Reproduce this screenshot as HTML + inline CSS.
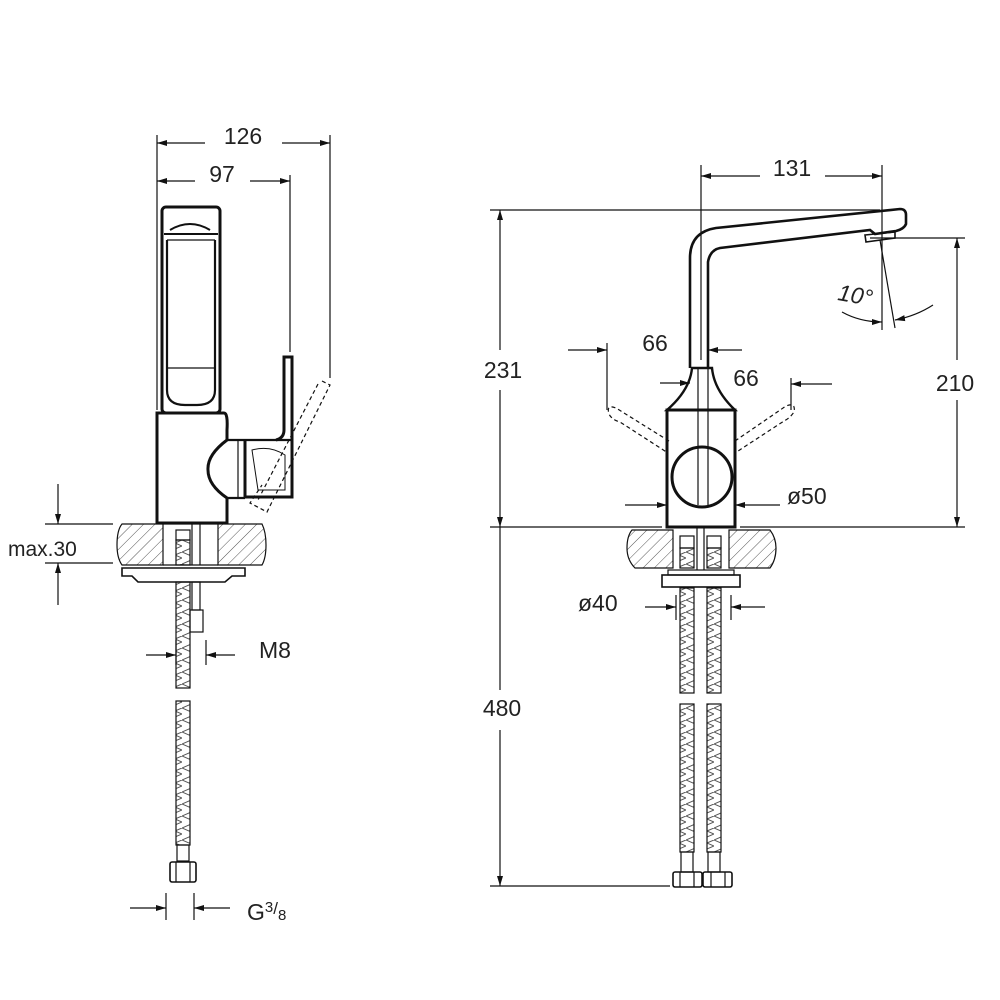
<!DOCTYPE html>
<html><head><meta charset="utf-8"><style>
html,body{margin:0;padding:0;background:#fff}
svg{display:block}
text{font-family:"Liberation Sans",sans-serif;fill:#222}
</style></head><body>
<svg width="1000" height="1000" viewBox="0 0 1000 1000" xmlns="http://www.w3.org/2000/svg">
<defs>
<pattern id="hatch" width="8" height="8" patternUnits="userSpaceOnUse" patternTransform="rotate(45)">
<line x1="0" y1="0" x2="0" y2="8" stroke="#555" stroke-width="1"/>
</pattern>
<pattern id="hose" width="14" height="12" patternUnits="userSpaceOnUse">
<path d="M0 0 L14 6 L0 12 M14 0 L7 3" fill="none" stroke="#555" stroke-width="1"/>
</pattern>
<marker id="ar" markerWidth="10" markerHeight="8" refX="10" refY="4" orient="auto" markerUnits="userSpaceOnUse">
<path d="M0 1 L10 4 L0 7 Z" fill="#111"/>
</marker>
</defs>
<g stroke="#111" fill="none" stroke-width="1.2">
<!-- LEFT VIEW dimension lines -->
<line x1="157" y1="135" x2="157" y2="410"/>
<line x1="330" y1="135" x2="330" y2="378"/>
<line x1="290" y1="175" x2="290" y2="352"/>
<line x1="205" y1="143" x2="157" y2="143" marker-end="url(#ar)"/>
<line x1="282" y1="143" x2="330" y2="143" marker-end="url(#ar)"/>
<line x1="195" y1="181" x2="157" y2="181" marker-end="url(#ar)"/>
<line x1="250" y1="181" x2="290" y2="181" marker-end="url(#ar)"/>
<!-- spout body -->
<rect x="162" y="207" width="58" height="206" rx="4" stroke-width="3"/>
<line x1="164" y1="234" x2="218" y2="234" stroke-width="2"/>
<line x1="167" y1="240" x2="215" y2="240"/>
<path d="M170 230 Q190 218 210 230" stroke-width="2"/>
<path d="M167 240 V390 Q167 405 185 405 H197 Q215 405 215 390 V240" stroke-width="2.2"/>
<line x1="167" y1="368" x2="215" y2="368"/>
<!-- body -->
<path d="M157 413 H224 Q228 413 227 430 V440 Q207 455 208 470 Q208 485 227 498 V523 H157 Z" stroke-width="3"/>
<path d="M227 440 H292 M227 498 H245" stroke-width="2.2"/>
<path d="M245 440 V497 H292 V357 H284 V430 Q284 438 276 440" stroke-width="3"/>
<path d="M252 450 Q270 445 285 455 V490 H258 Z" stroke-width="1"/>
<line x1="238" y1="440" x2="238" y2="497"/>
<path d="M322 381 L330 385 L267 512 L250 503 L262 485" stroke-dasharray="4,3"/>
<path d="M318 384 L258 500" stroke-dasharray="4,3"/>
<!-- countertop left -->
<path d="M122 524 H163 V565 H122 Q117 558 117 545 Q117 530 122 524 Z" fill="url(#hatch)"/>
<path d="M218 524 H262 Q266 532 266 545 Q266 558 262 565 H218 Z" fill="url(#hatch)"/>
<line x1="163" y1="524" x2="218" y2="524"/>
<rect x="176" y="530" width="14" height="10"/>
<rect x="176" y="540" width="14" height="25" fill="url(#hose)"/>
<line x1="192" y1="524" x2="192" y2="565"/><line x1="200" y1="524" x2="200" y2="565"/>
<!-- plate -->
<path d="M122 568 H245 V576 H232 L225 582 H138 L132 576 H122 Z" stroke-width="1.6"/>
<line x1="163" y1="565" x2="218" y2="565"/>
<!-- hose left -->
<rect x="176" y="582" width="14" height="106" fill="url(#hose)"/>
<rect x="176" y="701" width="14" height="144" fill="url(#hose)"/>
<rect x="177" y="845" width="12" height="16"/>
<rect x="170" y="862" width="26" height="20" rx="2" stroke-width="1.6"/>
<line x1="176" y1="862" x2="176" y2="882"/><line x1="190" y1="862" x2="190" y2="882"/>
<rect x="192" y="582" width="8" height="28"/>
<rect x="190" y="610" width="13" height="22"/>
<!-- max.30 -->
<line x1="45" y1="524" x2="113" y2="524"/>
<line x1="45" y1="563" x2="113" y2="563"/>
<line x1="58" y1="484" x2="58" y2="524" marker-end="url(#ar)"/>
<line x1="58" y1="605" x2="58" y2="563" marker-end="url(#ar)"/>
<!-- M8 -->
<line x1="176" y1="640" x2="176" y2="665"/>
<line x1="206" y1="640" x2="206" y2="665"/>
<line x1="146" y1="655" x2="176" y2="655" marker-end="url(#ar)"/>
<line x1="235" y1="655" x2="206" y2="655" marker-end="url(#ar)"/>
<!-- G3/8 -->
<line x1="166" y1="893" x2="166" y2="920"/>
<line x1="194" y1="893" x2="194" y2="920"/>
<line x1="130" y1="908" x2="166" y2="908" marker-end="url(#ar)"/>
<line x1="230" y1="908" x2="194" y2="908" marker-end="url(#ar)"/>

<!-- RIGHT VIEW -->
<line x1="490" y1="210" x2="880" y2="210"/>
<line x1="490" y1="527" x2="662" y2="527"/>
<line x1="740" y1="527" x2="965" y2="527"/>
<line x1="490" y1="886" x2="670" y2="886"/>
<line x1="500" y1="350" x2="500" y2="210" marker-end="url(#ar)"/>
<line x1="500" y1="390" x2="500" y2="527" marker-end="url(#ar)"/>
<line x1="500" y1="690" x2="500" y2="527"/>
<line x1="500" y1="730" x2="500" y2="886" marker-end="url(#ar)"/>
<!-- 131 -->
<line x1="701" y1="165" x2="701" y2="360"/>
<line x1="882" y1="165" x2="882" y2="330"/>
<line x1="760" y1="176" x2="701" y2="176" marker-end="url(#ar)"/>
<line x1="825" y1="176" x2="882" y2="176" marker-end="url(#ar)"/>
<!-- 210 -->
<line x1="870" y1="238" x2="965" y2="238"/>
<line x1="957" y1="360" x2="957" y2="238" marker-end="url(#ar)"/>
<line x1="957" y1="400" x2="957" y2="527" marker-end="url(#ar)"/>
<!-- 10 deg -->
<line x1="880" y1="240" x2="895" y2="328"/>
<path d="M842 312 Q860 322 882 322" marker-end="url(#ar)"/>
<path d="M933 305 Q916 316 895 320" marker-end="url(#ar)"/>
<!-- spout -->
<path d="M690 368 V258 Q690 232 716 228 L900 209 Q906 209 906 215 V224 Q904 229 896 231 L875 234 L870 230 L720 248 Q710 250 708 262 V368" stroke-width="2.6"/>
<path d="M865 235 L895 232 L895 238 L866 242 Z" stroke-width="1.6"/>
<line x1="698" y1="368" x2="698" y2="505"/>
<line x1="708" y1="368" x2="708" y2="505"/>
<!-- body -->
<path d="M692 368 H712 Q714 390 735 410 H667 Q690 390 692 368 Z" stroke-width="2.4"/>
<rect x="667" y="410" width="68" height="117" stroke-width="3"/>
<circle cx="702" cy="477" r="30" stroke-width="3"/>
<!-- dashed levers -->
<path d="M669 441 L616 408 Q606 404 609 414 Q612 420 620 422 L668 453" stroke-dasharray="4,3"/>
<path d="M735 441 L786 406 Q796 402 794 412 Q790 418 784 421 L735 453" stroke-dasharray="4,3"/>
<!-- 66 dims -->
<line x1="607" y1="343" x2="607" y2="410"/>
<line x1="568" y1="350" x2="607" y2="350" marker-end="url(#ar)"/>
<line x1="742" y1="350" x2="708" y2="350" marker-end="url(#ar)"/>
<line x1="660" y1="383" x2="690" y2="383" marker-end="url(#ar)"/>
<line x1="791" y1="378" x2="791" y2="410"/>
<line x1="832" y1="384" x2="791" y2="384" marker-end="url(#ar)"/>
<!-- ø50 -->
<line x1="625" y1="505" x2="667" y2="505" marker-end="url(#ar)"/>
<line x1="780" y1="505" x2="735" y2="505" marker-end="url(#ar)"/>
<!-- countertop right -->
<path d="M632 530 H673 V568 H635 Q627 560 627 548 Q627 536 632 530 Z" fill="url(#hatch)"/>
<path d="M729 530 H770 Q776 538 776 548 Q776 560 770 568 H729 Z" fill="url(#hatch)"/>
<rect x="680" y="536" width="14" height="12"/><rect x="707" y="536" width="14" height="12"/>
<rect x="680" y="548" width="14" height="20" fill="url(#hose)"/><rect x="707" y="548" width="14" height="20" fill="url(#hose)"/>
<line x1="697" y1="527" x2="697" y2="570"/><line x1="704" y1="527" x2="704" y2="570"/>
<rect x="668" y="570" width="66" height="5"/>
<rect x="662" y="575" width="78" height="12" stroke-width="1.6"/>
<!-- hoses right -->
<rect x="680" y="588" width="14" height="105" fill="url(#hose)"/>
<rect x="707" y="588" width="14" height="105" fill="url(#hose)"/>
<rect x="680" y="704" width="14" height="148" fill="url(#hose)"/>
<rect x="707" y="704" width="14" height="148" fill="url(#hose)"/>
<rect x="681" y="852" width="12" height="20"/><rect x="708" y="852" width="12" height="20"/>
<rect x="673" y="872" width="29" height="15" rx="2" stroke-width="1.6"/>
<rect x="703" y="872" width="29" height="15" rx="2" stroke-width="1.6"/>
<line x1="680" y1="872" x2="680" y2="887"/><line x1="694" y1="872" x2="694" y2="887"/>
<line x1="711" y1="872" x2="711" y2="887"/><line x1="725" y1="872" x2="725" y2="887"/>
<!-- ø40 -->
<line x1="676" y1="595" x2="676" y2="620"/>
<line x1="731" y1="595" x2="731" y2="620"/>
<line x1="645" y1="607" x2="676" y2="607" marker-end="url(#ar)"/>
<line x1="765" y1="607" x2="731" y2="607" marker-end="url(#ar)"/>
</g>
<g font-size="23">
<text x="243" y="144" text-anchor="middle">126</text>
<text x="222" y="182" text-anchor="middle">97</text>
<text x="8" y="556" font-size="21">max.30</text>
<text x="259" y="658">M8</text>
<text x="247" y="920">G<tspan font-size="15" dy="-8">3</tspan><tspan font-size="17" dy="2">/</tspan><tspan font-size="15" dy="6">8</tspan></text>
<text x="792" y="176" text-anchor="middle">131</text>
<text x="503" y="378" text-anchor="middle">231</text>
<text x="955" y="391" text-anchor="middle">210</text>
<text x="502" y="716" text-anchor="middle">480</text>
<text x="655" y="351" text-anchor="middle">66</text>
<text x="746" y="386" text-anchor="middle">66</text>
<text x="787" y="504">ø50</text>
<text x="578" y="611">ø40</text>
<text x="838" y="303" font-style="italic" transform="rotate(10 855 295)">10°</text>
</g>
</svg>
</body></html>
